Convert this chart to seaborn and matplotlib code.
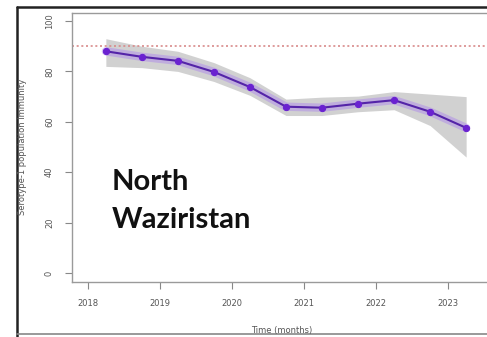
import matplotlib
matplotlib.use("Agg")
import matplotlib.pyplot as plt
from matplotlib.lines import Line2D
import numpy as np
import pandas as pd
import seaborn as sns

# Serotype-1 population immunity, North Waziristan (half-yearly estimates)
time = [2018.25, 2018.75, 2019.25, 2019.75, 2020.25, 2020.75,
        2021.25, 2021.75, 2022.25, 2022.75, 2023.25]
immunity = [88.0, 85.8, 84.2, 79.8, 73.8, 66.0, 65.6, 67.2, 68.6, 64.0, 57.6]
lower = [82.0, 81.5, 80.0, 76.0, 70.5, 62.5, 62.5, 64.0, 64.8, 58.5, 46.0]
upper = [93.0, 90.0, 88.0, 83.5, 77.5, 69.0, 69.8, 70.2, 72.0, 71.0, 70.0]
threshold = 90
x_ticks = [2018, 2019, 2020, 2021, 2022, 2023]
y_ticks = [0, 20, 40, 60, 80, 100]
district = ["North", "Waziristan"]

df = pd.DataFrame({"time": time, "immunity": immunity})

sns.set_style("white")
plt.rcParams["font.family"] = ["DejaVu Sans"]

W, H = 487, 337
fig = plt.figure(figsize=(W / 100, H / 100), dpi=100)
fig.patch.set_facecolor("white")

def fx(px):
    return px / W

def fy(py):
    return 1 - py / H

# plot region (right edge runs past the figure)
left, right, top, bottom = 72, 500, 13, 282
ax = fig.add_axes([fx(left), fy(bottom), fx(right - left), (bottom - top) / H])

ax.set_xlim(2017.78, 2023.72)
ax.set_ylim(-3.6, 103.2)

ax.fill_between(time, lower, upper, color="#c6c6c6", alpha=0.8, lw=0, zorder=1)
ax.axhline(threshold, color="#d88a8a", lw=1.2, ls=(0, (1.2, 1.6)), zorder=2)
# soft halo under the line
ax.plot(time, immunity, color="#a678f0", lw=6, alpha=0.4,
        solid_capstyle="round", zorder=3)
sns.lineplot(data=df, x="time", y="immunity", ax=ax, color="#5424a8", lw=1.5,
             marker="o", markersize=4.5, markerfacecolor="#6a22d0",
             markeredgecolor="#6a22d0", zorder=4)

ax.set_xticks(x_ticks)
ax.set_yticks(y_ticks)
ax.set_xticklabels([str(t) for t in x_ticks])
ax.set_yticklabels([str(t) for t in y_ticks], rotation=90, va="center")
ax.tick_params(axis="both", which="both", direction="out", length=5,
               width=0.8, color="#888888", labelcolor="#555555", labelsize=6,
               left=True, bottom=True)
ax.tick_params(axis="x", pad=7)
ax.tick_params(axis="y", pad=8)
for side in ["left", "bottom", "top", "right"]:
    ax.spines[side].set_color("#9a9a9a")
    ax.spines[side].set_linewidth(1.0)

ax.set_xlabel("")
ax.set_ylabel("")
fig.text(fx(282), fy(330), "Time (months)", ha="center", va="center",
         fontsize=6, color="#555555")
fig.text(fx(23), fy(147), "Serotype-1 population immunity", ha="center",
         va="center", rotation=90, fontsize=6, color="#555555")

for word, base in zip(district, [190, 228]):
    fig.text(fx(112), fy(base), word, ha="left", va="baseline", fontsize=21,
             fontweight="bold", family=["Lato", "DejaVu Sans"],
             color="#111111")

# outer frame
fig.add_artist(Line2D([fx(17), fx(17)], [fy(7), 0], color="#222222", lw=1.8))
fig.add_artist(Line2D([fx(17), 1], [fy(7), fy(7)], color="#222222", lw=1.8))
fig.add_artist(Line2D([fx(17), 1], [fy(334), fy(334)], color="#888888", lw=1.2))

fig.savefig("out.png", dpi=100)
